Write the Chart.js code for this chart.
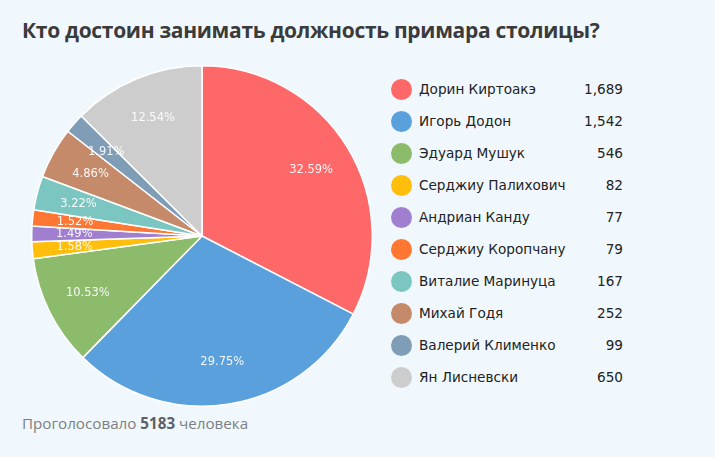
<!DOCTYPE html>
<html>
<head>
<meta charset="utf-8">
<script src="https://cdn.jsdelivr.net/npm/chart.js@4/dist/chart.umd.min.js"></script>
<style>
  html, body { margin: 0; padding: 0; }
  body { width: 715px; height: 457px; background: #f1f8fd; position: relative; overflow: hidden; }
  #title { position: absolute; left: 22px; top: 16px; font: bold 21px "Open Sans", sans-serif; color: #3b3b3b; letter-spacing: -0.3px; }
  #pie-box { position: absolute; left: 31px; top: 65px; width: 342px; height: 342px; }
  #legend { position: absolute; left: 391px; top: 73px; width: 232px; font: 13.6px "DejaVu Sans", sans-serif; color: #222; }
  .row { height: 32px; display: flex; align-items: center; }
  .dot { width: 21px; height: 21px; border-radius: 50%; margin-right: 7px; flex: none; }
  .name { flex: 1; }
  .val { text-align: right; }
  #foot { position: absolute; left: 22px; top: 413px; font: 15.2px "Open Sans", sans-serif; color: #7b7f84; }
  #foot b { color: #5d6165; }
</style>
</head>
<body>
<div id="title">Кто достоин занимать должность примара столицы?</div>
<div id="pie-box"><canvas id="chart-pie"></canvas></div>
<div id="legend"></div>
<div id="foot">Проголосовало <b>5183</b> человека</div>
<script>
  const names = ['Дорин Киртоакэ', 'Игорь Додон', 'Эдуард Мушук', 'Серджиу Палихович', 'Андриан Канду',
    'Серджиу Коропчану', 'Виталие Маринуца', 'Михай Годя', 'Валерий Клименко', 'Ян Лисневски'];
  const votes = [1689, 1542, 546, 82, 77, 79, 167, 252, 99, 650];
  const colors = ['#ff6868', '#5aa0dd', '#8cbb6b', '#ffbe0c', '#a07fd1', '#ff7733', '#7cc6c1', '#c58a6a', '#7f9db6', '#cdcdcd'];
  const total = votes.reduce((a, b) => a + b, 0);

  // legend
  let legend = document.getElementById('legend');
  names.forEach((n, i) => {
    let row = document.createElement('div');
    row.className = 'row';
    row.innerHTML = '<span class="dot" style="background:' + colors[i] + '"></span>' +
      '<span class="name">' + n + '</span><span class="val">' + votes[i].toLocaleString('en-US') + '</span>';
    legend.appendChild(row);
  });

  // percent labels inside the slices
  const pctLabels = {
    id: 'pctLabels',
    afterDatasetsDraw(chart) {
      const ctx = chart.ctx;
      const meta = chart.getDatasetMeta(0);
      ctx.save();
      ctx.font = '11.5px "DejaVu Sans", sans-serif';
      ctx.fillStyle = 'rgba(255,255,255,0.92)';
      ctx.textAlign = 'center';
      ctx.textBaseline = 'middle';
      meta.data.forEach((arc, i) => {
        const mid = (arc.startAngle + arc.endAngle) / 2;
        const r = arc.outerRadius * 0.75;
        const x = arc.x + Math.cos(mid) * r;
        const y = arc.y + Math.sin(mid) * r;
        ctx.fillText((votes[i] / total * 100).toFixed(2) + '%', x, y);
      });
      ctx.restore();
    }
  };

  let ctx = document.getElementById('chart-pie').getContext('2d');
  new Chart(ctx, {
    type: 'pie',
    data: {
      labels: names,
      datasets: [{
        data: votes,
        backgroundColor: colors,
        borderColor: '#ffffff',
        borderWidth: 1.5
      }]
    },
    options: {
      responsive: true,
      maintainAspectRatio: false,
      animation: false,
      plugins: {
        legend: { display: false },
        tooltip: { enabled: false }
      }
    },
    plugins: [pctLabels]
  });
</script>
</body>
</html>
